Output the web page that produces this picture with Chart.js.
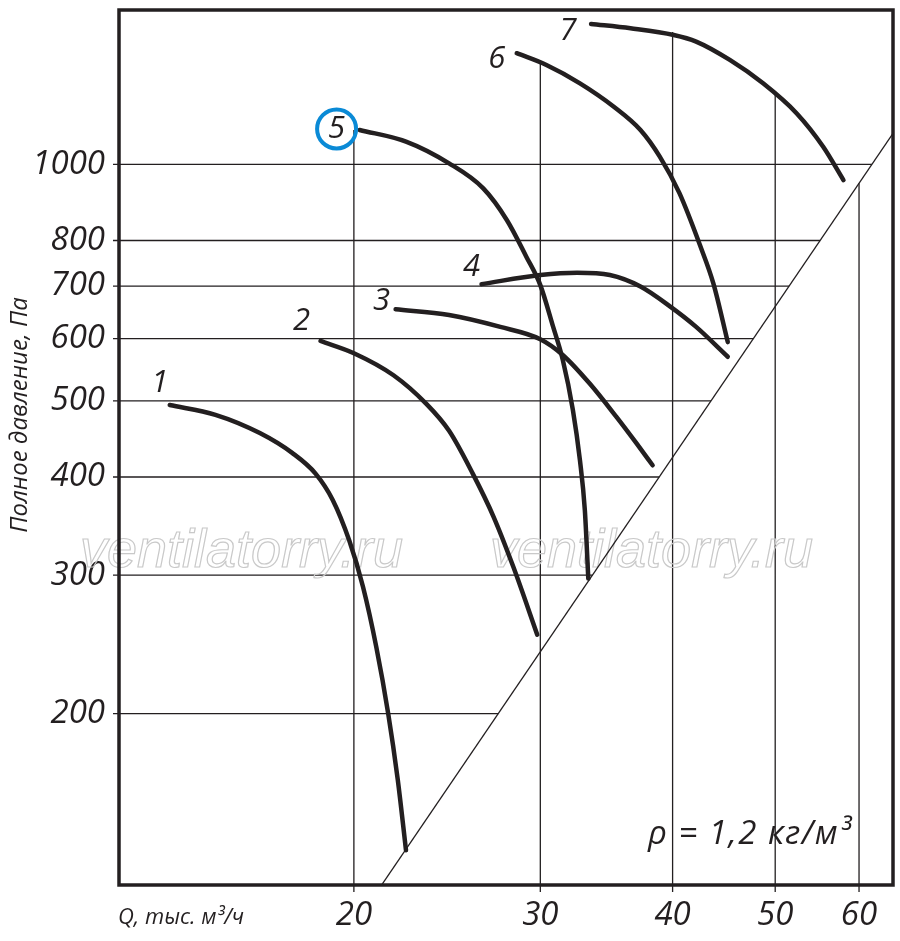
<!DOCTYPE html>
<html lang="ru">
<head>
<meta charset="UTF-8">
<title>Аэродинамические характеристики</title>
<script src="https://cdn.jsdelivr.net/npm/chart.js"></script>
<style>
  body { margin: 0; background: #fff; overflow: hidden; }
  canvas { display: block; }
</style>
</head>
<body>
<canvas id="fanChart" width="900" height="941"></canvas>
<script>
// Q, тыс. м3/ч and full pressure, Па
const curve1Q = [13.4, 14.8, 16.3, 17.5, 18.4, 19.1, 19.8, 20.4, 21.0, 21.55, 22.0, 22.4];
const curve1P = [494, 480, 455, 429, 404, 374, 332, 290, 243, 200, 165, 134];
const curve2Q = [18.6, 20.0, 21.8, 23.4, 24.6, 25.9, 27.1, 28.3, 29.8];
const curve2P = [596, 575, 539, 496, 458, 404, 356, 307, 252];
const curve3Q = [21.9, 24.6, 27.5, 30.0, 31.5, 33.4, 35.4, 37.0, 38.3];
const curve3P = [654, 643, 621, 599, 572, 526, 477, 441, 414];
const curve4Q = [26.4, 30.0, 32.5, 34.9, 37.3, 39.8, 42.1, 45.1];
const curve4P = [704, 723, 728, 723, 699, 659, 621, 569];
const curve5Q = [20.25, 22.4, 24.6, 26.5, 27.9, 29.1, 30.0, 30.85, 31.5, 32.2, 32.7, 33.05, 33.3];
const curve5P = [1106, 1069, 1003, 932, 849, 763, 702, 621, 564, 487, 420, 363, 297];
const curve6Q = [28.5, 30.4, 32.7, 35.2, 37.3, 38.9, 40.6, 42.5, 43.7, 45.1];
const curve6P = [1385, 1338, 1268, 1184, 1106, 1023, 919, 786, 706, 594];
const curve7Q = [33.5, 36.5, 40.1, 42.1, 45.3, 48.7, 52.4, 55.5, 58.0];
const curve7P = [1509, 1490, 1461, 1433, 1358, 1268, 1161, 1053, 955];
const curveNames = ['1', '2', '3', '4', '5', '6', '7'];

// network line (P ~ Q^2), two ends
const netQ = [21.2, 64.6];
const netP = [120.5, 1095];

const xTicks = [20, 30, 40, 50, 60];
const yTicks = [200, 300, 400, 500, 600, 700, 800, 1000];
// how high each vertical grid line goes (null = up to the network line)
const xGridTop = [1106, 1346, 1474, 1225, null];

const ink = '#231f20';
const face = "'Open Sans', 'DejaVu Sans', sans-serif";
// label nudges from the first point of each curve, px
const labelShift = [[-10, -22], [-19, -20], [-14, -8], [-10, -17], [-23, -1], [-20, 6], [-23, 7]];

const curvesQ = [curve1Q, curve2Q, curve3Q, curve4Q, curve5Q, curve6Q, curve7Q];
const curvesP = [curve1P, curve2P, curve3P, curve4P, curve5P, curve6P, curve7P];

const netSlope = Math.log(netP[1] / netP[0]) / Math.log(netQ[1] / netQ[0]);
function netQAt(p) { return netQ[0] * Math.pow(p / netP[0], 1 / netSlope); }
function netPAt(q) { return netP[0] * Math.pow(q / netQ[0], netSlope); }

const datasets = curvesQ.map((qs, i) => ({
  label: curveNames[i],
  data: qs.map((q, j) => ({ x: q, y: curvesP[i][j] })),
  showLine: true,
  borderColor: ink,
  borderWidth: 4.5,
  borderCapStyle: 'round',
  borderJoinStyle: 'round',
  cubicInterpolationMode: 'monotone',
  pointRadius: 0
}));
datasets.push({
  label: 'сеть',
  data: netQ.map((q, j) => ({ x: q, y: netP[j] })),
  showLine: true,
  borderColor: ink,
  borderWidth: 1.3,
  pointRadius: 0
});

const drawing = {
  id: 'drawing',
  beforeDatasetsDraw(chart) {
    const { ctx, chartArea: a, scales: { x, y } } = chart;
    ctx.save();
    ctx.strokeStyle = ink;
    ctx.lineWidth = 1.3;
    ctx.beginPath();
    yTicks.forEach(v => {
      const py = y.getPixelForValue(v);
      ctx.moveTo(a.left - 6, py);
      ctx.lineTo(x.getPixelForValue(netQAt(v)), py);
    });
    xTicks.forEach((v, i) => {
      const px = x.getPixelForValue(v);
      const top = xGridTop[i] === null ? netPAt(v) : xGridTop[i];
      ctx.moveTo(px, a.bottom + 7);
      ctx.lineTo(px, y.getPixelForValue(top));
    });
    ctx.stroke();

    // watermark
    ctx.font = "italic 54px 'Liberation Sans', Arial, sans-serif";
    ctx.strokeStyle = '#c9c9c9';
    ctx.lineWidth = 1.2;
    ctx.textBaseline = 'alphabetic';
    ctx.strokeText('ventilatorry.ru', 80, 567);
    ctx.strokeText('ventilatorry.ru', 490, 567);
    ctx.restore();
  },
  afterDatasetsDraw(chart) {
    const { ctx, chartArea: a, scales: { x, y } } = chart;
    ctx.save();
    ctx.fillStyle = ink;
    ctx.textAlign = 'center';
    ctx.textBaseline = 'middle';
    ctx.font = 'italic 31px ' + face;
    curveNames.forEach((name, i) => {
      const px = x.getPixelForValue(curvesQ[i][0]) + labelShift[i][0];
      const py = y.getPixelForValue(curvesP[i][0]) + labelShift[i][1];
      ctx.fillText(name, px, py);
      if (name === '5') {
        ctx.beginPath();
        ctx.strokeStyle = '#0a8ad6';
        ctx.lineWidth = 4;
        ctx.arc(px, py, 19.5, 0, Math.PI * 2);
        ctx.stroke();
      }
    });

    ctx.textAlign = 'left';
    ctx.font = 'italic 33px ' + face;
    ctx.letterSpacing = '1.5px';
    ctx.fillText('\u03c1 = 1,2 кг/м\u00b3', 648, 835);
    ctx.letterSpacing = '0px';

    ctx.font = 'italic 22px ' + face;
    ctx.fillText('Q, тыс. м\u00b3/ч', 118, 918);

    ctx.save();
    ctx.translate(20, 415);
    ctx.rotate(-Math.PI / 2);
    ctx.textAlign = 'center';
    ctx.font = 'italic 24px ' + face;
    ctx.fillText('Полное давление, Па', 0, 0);
    ctx.restore();

    ctx.strokeStyle = ink;
    ctx.lineWidth = 3.5;
    ctx.strokeRect(a.left, a.top, a.right - a.left, a.bottom - a.top);
    ctx.restore();
  }
};

function noEdgePadding(s) {
  s.paddingTop = 0;
  s.paddingBottom = 0;
  s.paddingLeft = 0;
  s.paddingRight = 0;
}

new Chart(document.getElementById('fanChart'), {
  type: 'scatter',
  data: { datasets: datasets },
  options: {
    responsive: false,
    animation: false,
    layout: { padding: { top: 10, right: 7, left: 0, bottom: 0 } },
    plugins: { legend: { display: false }, tooltip: { enabled: false } },
    scales: {
      x: {
        type: 'logarithmic',
        min: 12,
        max: 64.6,
        grid: { display: false, drawTicks: false },
        border: { display: false },
        afterBuildTicks: s => { s.ticks = xTicks.map(v => ({ value: v })); },
        afterFit: s => { s.height = 56; noEdgePadding(s); },
        ticks: {
          autoSkip: false,
          maxRotation: 0,
          padding: 11,
          color: ink,
          font: { family: face, size: 33, style: 'italic' },
          callback: v => String(v)
        }
      },
      y: {
        type: 'logarithmic',
        min: 121,
        max: 1572,
        grid: { display: false, drawTicks: false },
        border: { display: false },
        afterBuildTicks: s => { s.ticks = yTicks.map(v => ({ value: v })); },
        afterFit: s => { s.width = 119; noEdgePadding(s); },
        ticks: {
          autoSkip: false,
          padding: 14,
          color: ink,
          font: { family: face, size: 33, style: 'italic' },
          callback: v => String(v)
        }
      }
    }
  },
  plugins: [drawing]
});
</script>
</body>
</html>
